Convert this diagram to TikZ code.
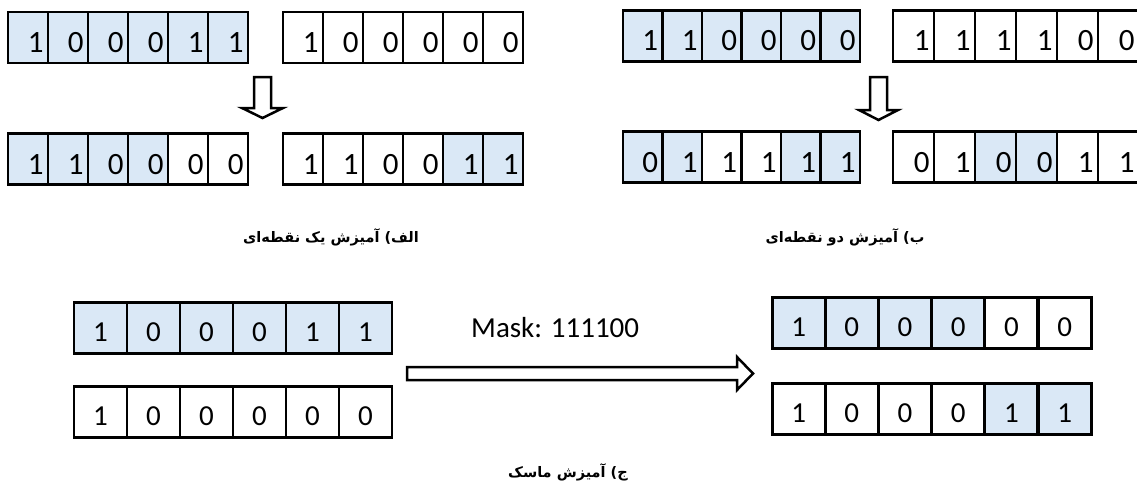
\documentclass[tikz,border=0pt]{standalone}
\usepackage{fontspec}
\setmainfont{Carlito}
\newfontfamily\arabicfont[Script=Arabic]{DejaVu Sans}
\TeXXeTstate=1
\definecolor{cellblue}{RGB}{218,232,246}
\newcommand\cellrow[6]{%
  \pgfmathsetmacro\tw{#5-9}%
  \foreach \d/\f [count=\i from 0] in {#6} {%
    \node[#2,fill=\f,minimum width=#5pt,text width=\tw pt] (#1\i) at ({#3+#5*(\i+0.5)},#4) {\d};
  }%
}
\begin{document}
\begin{tikzpicture}[x=1pt,y=-1pt,
  topcell/.style={draw=black,line width=2.9pt,minimum height=51pt,inner xsep=4.5pt,inner ysep=0pt,
    align=right,font=\fontsize{31}{31}\selectfont,text height=30pt,text depth=0pt},
  botcell/.style={draw=black,line width=2.9pt,minimum width=53pt,minimum height=51pt,inner sep=0pt,
    font=\fontsize{29}{29}\selectfont,text height=27pt,text depth=0pt},
  blockarrow/.style={draw=black,line width=2.5pt,fill=white,line join=miter},
  captxt/.style={font=\arabicfont\bfseries\fontsize{14.5}{17}\selectfont,inner sep=0pt}
]
\useasboundingbox (0,0) rectangle (1137,495);
% top left
\cellrow{A}{topcell}{8}{37.5}{40}{1/cellblue,0/cellblue,0/cellblue,0/cellblue,1/cellblue,1/cellblue}
\cellrow{B}{topcell}{283}{37.5}{40}{1/white,0/white,0/white,0/white,0/white,0/white}
\cellrow{P}{topcell}{8}{159}{40}{1/cellblue,1/cellblue,0/cellblue,0/cellblue,0/white,0/white}
\cellrow{Q}{topcell}{283}{159}{40}{1/white,1/white,0/white,0/white,1/cellblue,1/cellblue}
% top right
\cellrow{C}{topcell}{623}{36}{39.5}{1/cellblue,1/cellblue,0/cellblue,0/cellblue,0/cellblue,0/cellblue}
\cellrow{D}{topcell}{893}{36}{41}{1/white,1/white,1/white,1/white,0/white,0/white}
\cellrow{R}{topcell}{623}{157}{39.5}{0/cellblue,1/cellblue,1/white,1/white,1/cellblue,1/cellblue}
\cellrow{S}{topcell}{893}{157}{41}{0/white,1/white,0/cellblue,0/cellblue,1/white,1/white}
% down arrows
\draw[blockarrow] (254,77) -- (271,77) -- (271,108) -- (283,108) -- (262.5,118) -- (242,108) -- (254,108) -- cycle;
\draw[blockarrow] (870,77) -- (887,77) -- (887,110) -- (898,110) -- (878.5,120) -- (859,110) -- (870,110) -- cycle;
% captions
\node[captxt] (capA) at (331,237) {\beginR الف) آمیزش یک نقطه‌ای\endR};
\node[captxt] (capB) at (845,237) {\beginR ب) آمیزش دو نقطه‌ای\endR};
% bottom
\foreach \d/\f [count=\i from 0] in {1/cellblue,0/cellblue,0/cellblue,0/cellblue,1/cellblue,1/cellblue}
  \node[botcell,fill=\f] (E\i) at ({74+53*(\i+0.5)},328) {\d};
\foreach \d/\f [count=\i from 0] in {1/white,0/white,0/white,0/white,0/white,0/white}
  \node[botcell,fill=\f] (F\i) at ({74+53*(\i+0.5)},412) {\d};
\foreach \d/\f [count=\i from 0] in {1/cellblue,0/cellblue,0/cellblue,0/cellblue,0/white,0/white}
  \node[botcell,fill=\f] (G\i) at ({772+53.2*(\i+0.5)},323) {\d};
\foreach \d/\f [count=\i from 0] in {1/white,0/white,0/white,0/white,1/cellblue,1/cellblue}
  \node[botcell,fill=\f] (H\i) at ({772+53.2*(\i+0.5)},409) {\d};
\coordinate (mtip) at (753,373.5);
\draw[blockarrow] (407,367) -- (737,367) -- (737,357) -- (mtip) -- (737,390) -- (737,380) -- (407,380) -- cycle;
\node[anchor=base west,font=\fontsize{29}{29}\selectfont,inner sep=0pt] (mask) at (471,337) {Mask: 111100};
\node[captxt] (capC) at (568,472) {\beginR ج) آمیزش ماسک\endR};
\end{tikzpicture}
\end{document}
